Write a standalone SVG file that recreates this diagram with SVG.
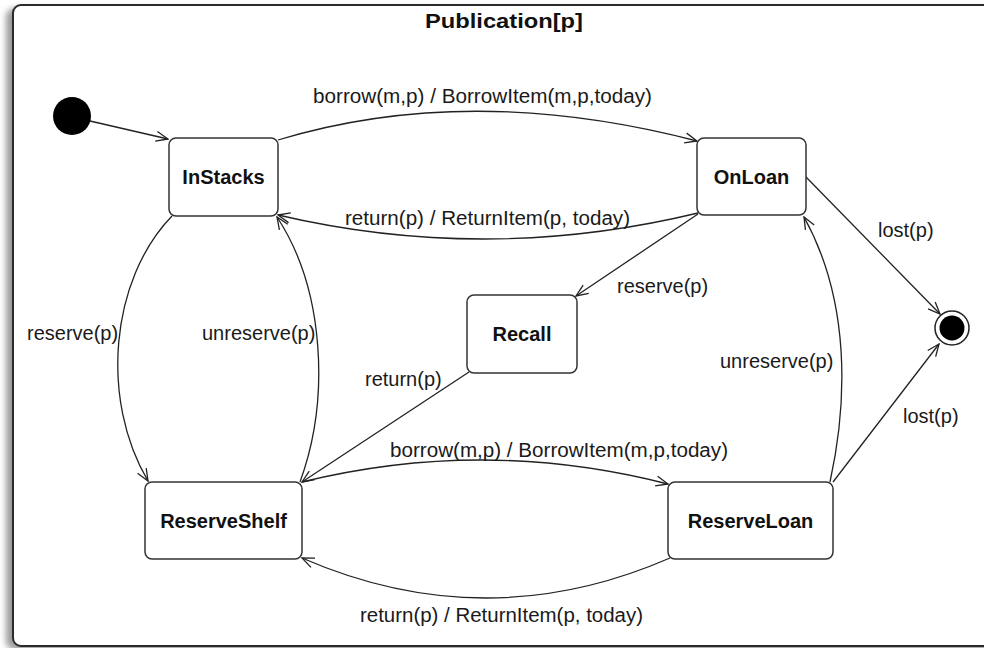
<svg xmlns="http://www.w3.org/2000/svg" width="984" height="648" viewBox="0 0 984 648">
  <style>
    .frame { fill: #ffffff; stroke: #2a2a2a; stroke-width: 2; }
    .state { fill: #ffffff; stroke: #333333; stroke-width: 1.5; }
    .name { font-family: "Liberation Sans", Arial, sans-serif; font-size: 20px; font-weight: bold; fill: #111111; text-anchor: middle; }
    .title { font-family: "Liberation Sans", Arial, sans-serif; font-size: 21px; font-weight: bold; fill: #111111; text-anchor: middle; }
    .label { font-family: "Liberation Sans", Arial, sans-serif; font-size: 20px; fill: #1a1a1a; }
    .edge { fill: none; stroke: #222222; stroke-width: 1.3; marker-end: url(#open); }
  </style>
  <defs>
    <marker id="open" viewBox="0 0 14 12" refX="13" refY="6" markerWidth="14" markerHeight="12" markerUnits="userSpaceOnUse" orient="auto">
      <path d="M1,1 L13,6 L1,11" fill="none" stroke="#222222" stroke-width="1.3"/>
    </marker>
    <filter id="soft" x="-10%" y="-10%" width="120%" height="120%">
      <feGaussianBlur stdDeviation="3"/>
    </filter>
  </defs>

  <rect width="984" height="648" fill="#ffffff"/>

  <!-- enclosing composite state -->
  <g id="publication">
    <rect x="6" y="8" width="1010" height="642" rx="9" fill="#9a9a9a" filter="url(#soft)"/>
    <rect class="frame" x="13" y="5" width="1000" height="641" rx="8"/>
    <text class="title" x="504" y="28" textLength="158" lengthAdjust="spacingAndGlyphs">Publication[p]</text>
  </g>

  <!-- transitions -->
  <g id="connectors">
    <path class="edge" d="M90,121 L168,139"/>
    <path class="edge" d="M278,140 Q470,82 697,141"/>
    <path class="edge" d="M698,213 Q487,264 278,215"/>
    <path class="edge" d="M172,216 C110,280 100,400 148,481"/>
    <path class="edge" d="M300,482 C330,400 325,290 277,217"/>
    <path class="edge" d="M698,214 L576,296"/>
    <path class="edge" d="M469,372 L302,482"/>
    <path class="edge" d="M302,482 Q485,437 668,484"/>
    <path class="edge" d="M670,558 Q486,638 302,558"/>
    <path class="edge" d="M830,482 C848,400 850,300 804,217"/>
    <path class="edge" d="M806,177 L940,314"/>
    <path class="edge" d="M833,482 L939,344"/>
  </g>

  <!-- transition labels -->
  <g id="labels">
    <text class="label" x="313" y="103" textLength="339" lengthAdjust="spacingAndGlyphs">borrow(m,p) / BorrowItem(m,p,today)</text>
    <text class="label" x="345" y="225" textLength="285" lengthAdjust="spacingAndGlyphs">return(p) / ReturnItem(p, today)</text>
    <text class="label" x="617" y="293">reserve(p)</text>
    <text class="label" x="27" y="340">reserve(p)</text>
    <text class="label" x="202" y="340">unreserve(p)</text>
    <text class="label" x="365" y="386">return(p)</text>
    <text class="label" x="390" y="457" textLength="338" lengthAdjust="spacingAndGlyphs">borrow(m,p) / BorrowItem(m,p,today)</text>
    <text class="label" x="360" y="622" textLength="283" lengthAdjust="spacingAndGlyphs">return(p) / ReturnItem(p, today)</text>
    <text class="label" x="878" y="237">lost(p)</text>
    <text class="label" x="720" y="368">unreserve(p)</text>
    <text class="label" x="903" y="423">lost(p)</text>
  </g>

  <g id="initial">
    <circle cx="72" cy="116" r="19" fill="#000000"/>
  </g>

  <g id="final">
    <circle cx="952" cy="328" r="17" fill="#ffffff" stroke="#222222" stroke-width="1.5"/>
    <circle cx="952" cy="328" r="12.5" fill="#000000"/>
  </g>

  <g id="InStacks">
    <rect class="state" x="169" y="138" width="109" height="78" rx="7"/>
    <text class="name" x="223.5" y="184">InStacks</text>
  </g>

  <g id="OnLoan">
    <rect class="state" x="697" y="138" width="109" height="77" rx="7"/>
    <text class="name" x="751.5" y="184">OnLoan</text>
  </g>

  <g id="Recall">
    <rect class="state" x="467" y="295" width="110" height="78" rx="7"/>
    <text class="name" x="522" y="341">Recall</text>
  </g>

  <g id="ReserveShelf">
    <rect class="state" x="145" y="482" width="157" height="77" rx="7"/>
    <text class="name" x="223.5" y="528">ReserveShelf</text>
  </g>

  <g id="ReserveLoan">
    <rect class="state" x="668" y="482" width="165" height="77" rx="7"/>
    <text class="name" x="750.5" y="528">ReserveLoan</text>
  </g>
</svg>
